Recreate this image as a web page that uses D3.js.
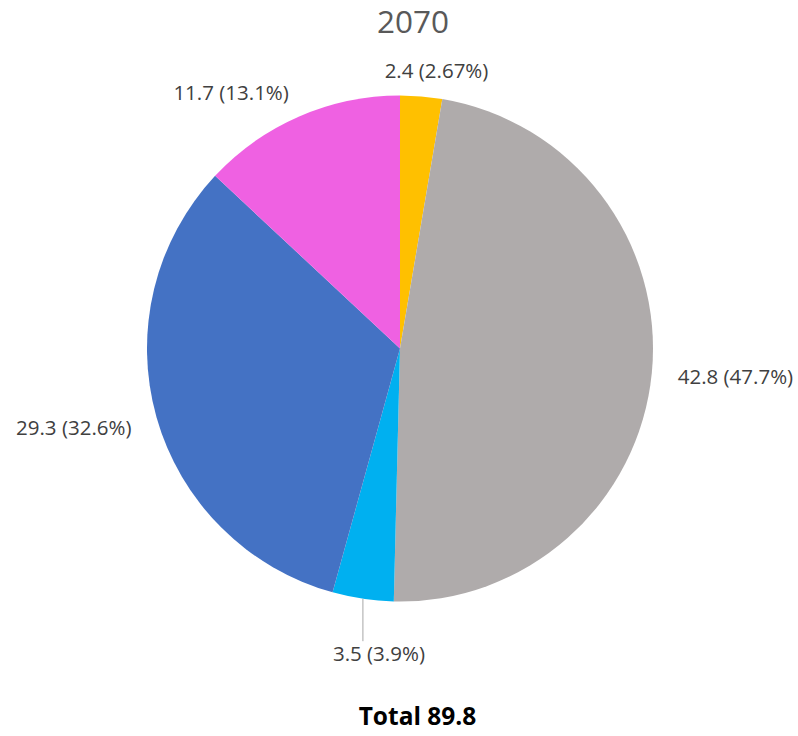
<!DOCTYPE html>
<html>
<head>
<meta charset="utf-8">
<script src="https://cdn.jsdelivr.net/npm/d3@7"></script>
<style>
  html, body { margin: 0; padding: 0; background: #ffffff; }
  svg { display: block; }
</style>
</head>
<body>
<svg id="chart" width="798" height="736"></svg>
<script>
// Data for the 2070 breakdown, clockwise from 12 o'clock
const categories = ["A", "B", "C", "D", "E"];
const values = [2.4, 42.8, 3.5, 29.3, 11.7];
const percentLabels = ["2.67%", "47.7%", "3.9%", "32.6%", "13.1%"];
const colors = ["#FFC000", "#AFABAB", "#00B0F0", "#4472C4", "#EF61E2"];
const titleText = "2070";
const totalText = "Total 89.8";

const W = 798, H = 736;
const cx = 400, cy = 348.5, radius = 253;
const fontFamily = "'Open Sans', 'Noto Sans', sans-serif";
const labelSize = 20.5;
const digitH = 0.714 * labelSize;   // cap/digit height of the label font

const svg = d3.select("#chart");

// Title
svg.append("text")
  .attr("x", 413).attr("y", 33)
  .attr("text-anchor", "middle")
  .style("font-family", fontFamily)
  .style("font-size", "31.5px")
  .style("fill", "#595959")
  .text(titleText);

const data = categories.map((c, i) => ({ category: c, value: values[i], pct: percentLabels[i], color: colors[i] }));

const pie = d3.pie().value(d => d.value).sort(null);
const arcs = pie(data);
const arc = d3.arc().innerRadius(0).outerRadius(radius);

const g = svg.append("g").attr("transform", `translate(${cx},${cy})`);

g.selectAll("path.slice")
  .data(arcs)
  .join("path")
  .attr("class", "slice")
  .attr("d", arc)
  .attr("fill", d => d.data.color);

// Data labels: value (percent), placed just outside each slice
const padX = 26, padY = 18;
const clamp = v => Math.max(-1, Math.min(1, v));
const labels = g.append("g");

arcs.forEach(a => {
  const mid = (a.startAngle + a.endAngle) / 2;
  const s = Math.sin(mid), c = Math.cos(mid);
  const t = labels.append("text")
    .style("font-family", fontFamily)
    .style("font-size", labelSize + "px")
    .style("fill", "#404040")
    .attr("text-anchor", "middle")
    .text(`${a.data.value} (${a.data.pct})`);
  const w = t.node().getComputedTextLength();

  if (c < -0.9) {
    // bottom slice: label pushed further out with a leader line
    const ax = radius * s, ay = -radius * c;
    const centerY = radius + 52;
    labels.append("line")
      .attr("x1", ax).attr("y1", ay)
      .attr("x2", ax).attr("y2", centerY - digitH / 2 - 5)
      .attr("stroke", "#A6A6A6").attr("stroke-width", 1);
    t.attr("x", ax + 16).attr("y", centerY + digitH / 2);
  } else {
    const px = (radius + padX) * s, py = -(radius + padY) * c;
    const centerX = px + (w / 2) * clamp(s * 3);
    const centerY = py - (digitH / 2) * clamp(c * 3);
    t.attr("x", centerX).attr("y", centerY + digitH / 2);
  }
});

// Total
svg.append("text")
  .attr("x", 417.5).attr("y", 725)
  .attr("text-anchor", "middle")
  .style("font-family", fontFamily)
  .style("font-weight", "bold")
  .style("font-size", "24.5px")
  .style("fill", "#000000")
  .text(totalText);
</script>
</body>
</html>
